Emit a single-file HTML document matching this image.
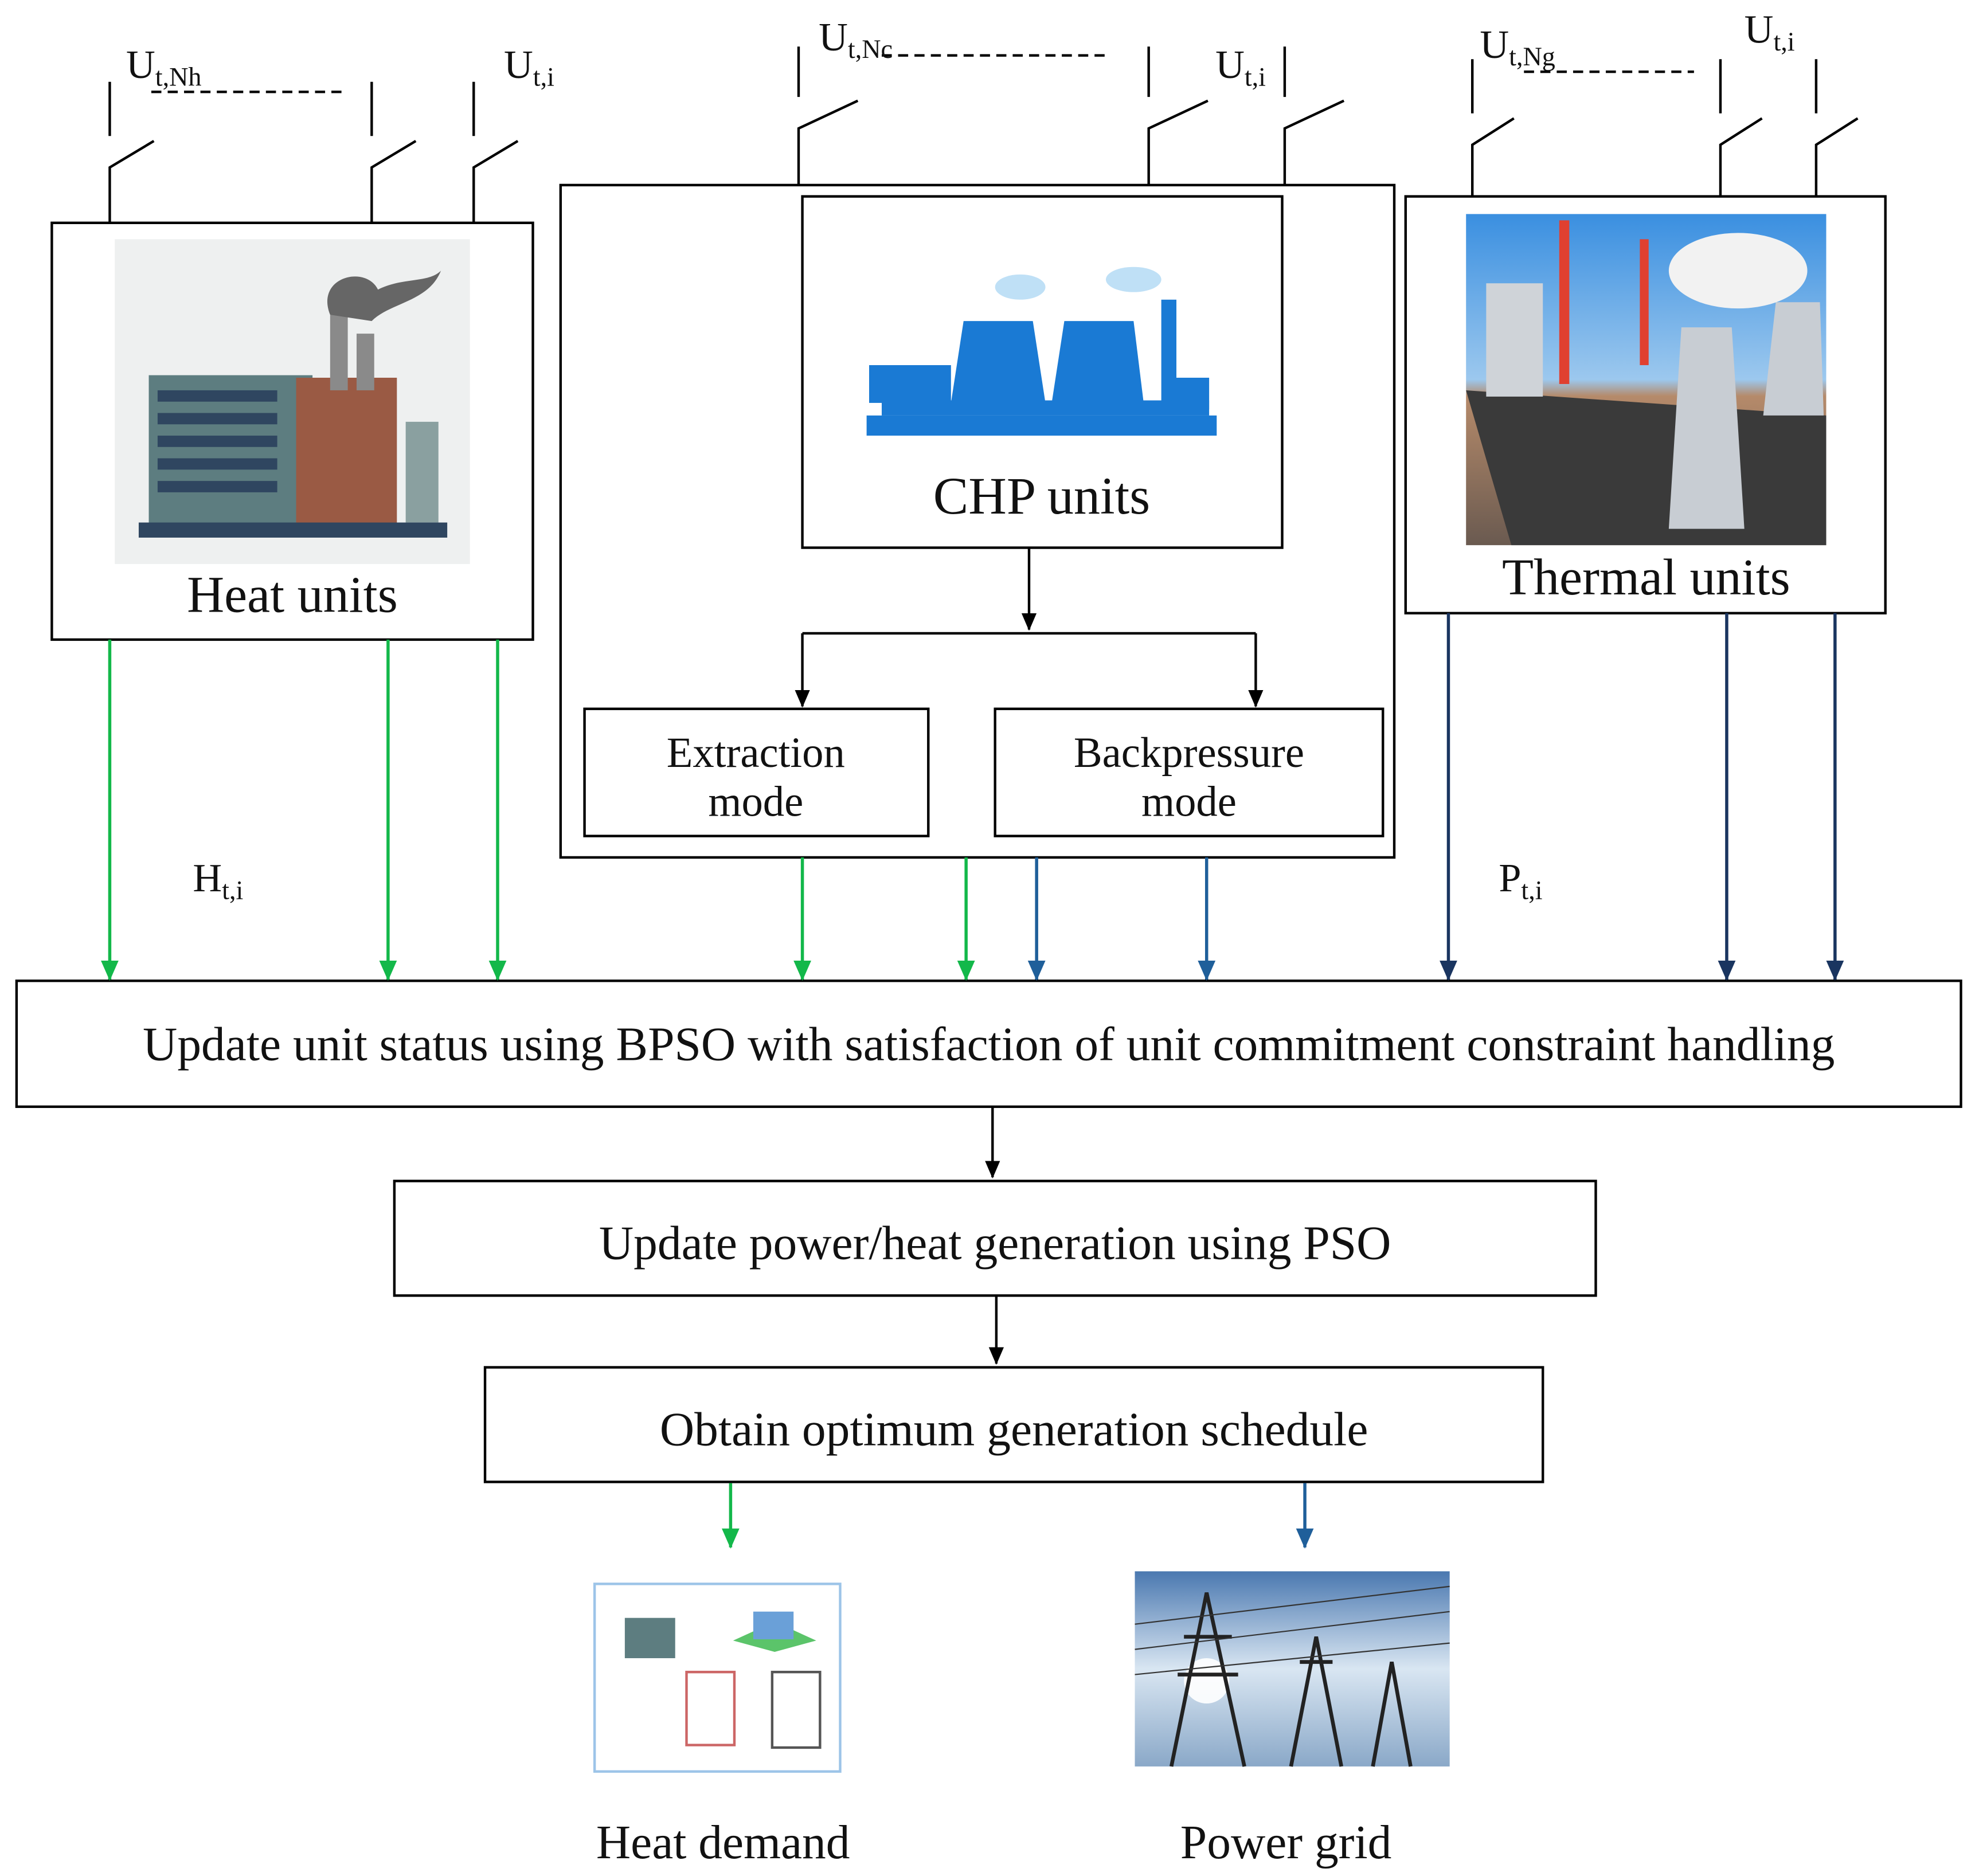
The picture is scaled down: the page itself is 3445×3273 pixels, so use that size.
<!DOCTYPE html>
<html><head><meta charset="utf-8"><style>
html,body{margin:0;padding:0;background:#fff}
svg{display:block}
text{font-family:"Liberation Serif",serif;fill:#111}
</style></head><body>
<svg width="3445" height="3273" viewBox="0 0 1568 1490" xmlns="http://www.w3.org/2000/svg">
<defs>
<marker id="ak" markerWidth="14" markerHeight="14" refX="13" refY="7" orient="auto" markerUnits="userSpaceOnUse"><path d="M0,1 L14,7 L0,13z" fill="#000"/></marker>
<marker id="ag" markerWidth="16" markerHeight="16" refX="15" refY="8" orient="auto" markerUnits="userSpaceOnUse"><path d="M0,1 L16,8 L0,15z" fill="#13b84a"/></marker>
<marker id="ab" markerWidth="16" markerHeight="16" refX="15" refY="8" orient="auto" markerUnits="userSpaceOnUse"><path d="M0,1 L16,8 L0,15z" fill="#1f5f9a"/></marker>
<marker id="ad" markerWidth="16" markerHeight="16" refX="15" refY="8" orient="auto" markerUnits="userSpaceOnUse"><path d="M0,1 L16,8 L0,15z" fill="#1a3560"/></marker>
<linearGradient id="sky" x1="0" y1="0" x2="0" y2="1"><stop offset="0" stop-color="#3a8fe0"/><stop offset="0.5" stop-color="#9cc8ee"/><stop offset="0.55" stop-color="#b58a6a"/><stop offset="1" stop-color="#6a5a50"/></linearGradient>
<linearGradient id="sky2" x1="0" y1="0" x2="0" y2="1"><stop offset="0" stop-color="#4a78b0"/><stop offset="0.5" stop-color="#d9e6f2"/><stop offset="1" stop-color="#8aa8c8"/></linearGradient>
</defs>
<g stroke="#000" stroke-width="2" fill="none">
<path d="M87,65V108 M87,177V133L122,112 M295,65V108 M295,177V133L330,112 M376,65V108 M376,177V133L411,112"/>
<path d="M120,73H275" stroke-dasharray="8,5"/>
<path d="M634,37V77 M634,147V102L681,80 M912,37V77 M912,147V102L959,80 M1020,37V77 M1020,147V102L1067,80"/>
<path d="M700,44H882" stroke-dasharray="8,5"/>
<path d="M1169,47V90 M1169,156V115L1202,94 M1366,47V90 M1366,156V115L1399,94 M1442,47V90 M1442,156V115L1475,94"/>
<path d="M1210,57H1345" stroke-dasharray="8,5"/>
<rect x="41" y="177" width="382" height="331"/>
<rect x="445" y="147" width="662" height="534"/>
<rect x="637" y="156" width="381" height="279"/>
<rect x="464" y="563" width="273" height="101"/>
<rect x="790" y="563" width="308" height="101"/>
<rect x="1116" y="156" width="381" height="331"/>
<rect x="13" y="779" width="1544" height="100"/>
<rect x="313" y="938" width="954" height="91"/>
<rect x="385" y="1086" width="840" height="91"/>
<path d="M817,435V500" marker-end="url(#ak)"/>
<path d="M637,503H997"/>
<path d="M637,503V561" marker-end="url(#ak)"/><path d="M997,503V561" marker-end="url(#ak)"/>
<path d="M788,879V935" marker-end="url(#ak)"/>
<path d="M791,1029V1083" marker-end="url(#ak)"/>
</g>
<g stroke="#13b84a" stroke-width="2.5">
<path d="M87,508V778" marker-end="url(#ag)"/><path d="M308,508V778" marker-end="url(#ag)"/><path d="M395,508V778" marker-end="url(#ag)"/>
<path d="M637,681V778" marker-end="url(#ag)"/><path d="M767,681V778" marker-end="url(#ag)"/>
<path d="M580,1178V1229" marker-end="url(#ag)"/>
</g>
<g stroke="#1f5f9a" stroke-width="2.5">
<path d="M823,681V778" marker-end="url(#ab)"/><path d="M958,681V778" marker-end="url(#ab)"/>
<path d="M1036,1178V1229" marker-end="url(#ab)"/>
</g>
<g stroke="#1a3560" stroke-width="2.5">
<path d="M1150,487V778" marker-end="url(#ad)"/><path d="M1371,487V778" marker-end="url(#ad)"/><path d="M1457,487V778" marker-end="url(#ad)"/>
</g>
<rect x="91" y="190" width="282" height="258" fill="#eef0f0"/>
<rect x="118" y="298" width="130" height="118" fill="#5d7d80"/>
<g fill="#2f4660"><rect x="125" y="310" width="95" height="9"/><rect x="125" y="328" width="95" height="9"/><rect x="125" y="346" width="95" height="9"/><rect x="125" y="364" width="95" height="9"/><rect x="125" y="382" width="95" height="9"/></g>
<rect x="235" y="300" width="80" height="116" fill="#9a5a44"/>
<rect x="262" y="250" width="14" height="60" fill="#8a8a8a"/><rect x="283" y="265" width="14" height="45" fill="#8a8a8a"/>
<path d="M262,250 C250,220 290,210 300,230 C320,220 340,225 350,215 C340,240 310,240 295,255z" fill="#666"/>
<rect x="322" y="335" width="26" height="80" fill="#8aa0a0"/>
<rect x="110" y="415" width="245" height="12" fill="#2f4660"/>
<g fill="#1a7ad4"><path d="M755,320L765,255H820L830,320z"/><path d="M835,320L845,255H900L908,320z"/><rect x="922" y="238" width="12" height="82"/><rect x="690" y="290" width="65" height="30"/><rect x="930" y="300" width="30" height="25"/><rect x="688" y="330" width="278" height="16"/><rect x="700" y="318" width="260" height="12"/></g>
<ellipse cx="810" cy="228" rx="20" ry="10" fill="#bfe0f6"/><ellipse cx="900" cy="222" rx="22" ry="10" fill="#bfe0f6"/>
<rect x="1164" y="170" width="286" height="263" fill="url(#sky)"/>
<path d="M1164,310L1450,330V433H1200z" fill="#3a3a3a"/>
<rect x="1180" y="225" width="45" height="90" fill="#cfd3d8"/>
<rect x="1238" y="175" width="8" height="130" fill="#e04030"/><rect x="1302" y="190" width="7" height="100" fill="#e04030"/>
<path d="M1325,420L1335,260H1375L1385,420z" fill="#c8cdd3"/><path d="M1400,330L1410,240H1445L1448,330z" fill="#c8cdd3"/>
<ellipse cx="1380" cy="215" rx="55" ry="30" fill="#f2f2f2"/>
<rect x="472" y="1258" width="195" height="149" fill="#fff" stroke="#9cc4e8" stroke-width="2"/>
<rect x="496" y="1285" width="40" height="32" fill="#5d7d80"/>
<path d="M582,1303L615,1288L648,1303L615,1312z" fill="#5bc46a"/><rect x="598" y="1280" width="32" height="22" fill="#6aa0d8"/>
<rect x="545" y="1328" width="38" height="58" fill="none" stroke="#c66" stroke-width="2"/>
<rect x="613" y="1328" width="38" height="60" fill="none" stroke="#555" stroke-width="2"/>
<rect x="901" y="1248" width="250" height="155" fill="url(#sky2)"/>
<circle cx="958" cy="1335" r="18" fill="#fff" opacity="0.9"/>
<g stroke="#222" stroke-width="3" fill="none"><path d="M930,1403L958,1265L988,1403 M940,1300H978 M935,1330H983"/><path d="M1025,1403L1045,1300L1065,1403 M1032,1320H1058"/><path d="M1090,1403L1105,1320L1120,1403"/></g>
<g stroke="#333" stroke-width="1" fill="none"><path d="M901,1290L1151,1260 M901,1310L1151,1280 M901,1330L1151,1305"/></g>
<g text-anchor="middle">
<text x="232" y="486" font-size="41">Heat units</text>
<text x="827" y="408" font-size="42">CHP units</text>
<text x="1307" y="472" font-size="41">Thermal units</text>
<text x="600" y="609" font-size="34">Extraction</text><text x="600" y="648" font-size="34">mode</text>
<text x="944" y="609" font-size="34">Backpressure</text><text x="944" y="648" font-size="34">mode</text>
<text x="785" y="842" font-size="38">Update unit status using BPSO with satisfaction of unit commitment constraint handling</text>
<text x="790" y="1000" font-size="38">Update power/heat generation using PSO</text>
<text x="805" y="1148" font-size="38">Obtain optimum generation schedule</text>
<text x="574" y="1476" font-size="38">Heat demand</text>
<text x="1021" y="1476" font-size="38">Power grid</text>
</g>
<g font-size="32">
<text x="100" y="62">U<tspan font-size="21" dy="6">t,Nh</tspan></text>
<text x="400" y="62">U<tspan font-size="21" dy="6">t,i</tspan></text>
<text x="650" y="40">U<tspan font-size="21" dy="6">t,Nc</tspan></text>
<text x="965" y="62">U<tspan font-size="21" dy="6">t,i</tspan></text>
<text x="1175" y="46">U<tspan font-size="21" dy="6">t,Ng</tspan></text>
<text x="1385" y="34">U<tspan font-size="21" dy="6">t,i</tspan></text>
<text x="153" y="708">H<tspan font-size="21" dy="6">t,i</tspan></text>
<text x="1190" y="708">P<tspan font-size="21" dy="6">t,i</tspan></text>
</g>
</svg>
</body></html>
